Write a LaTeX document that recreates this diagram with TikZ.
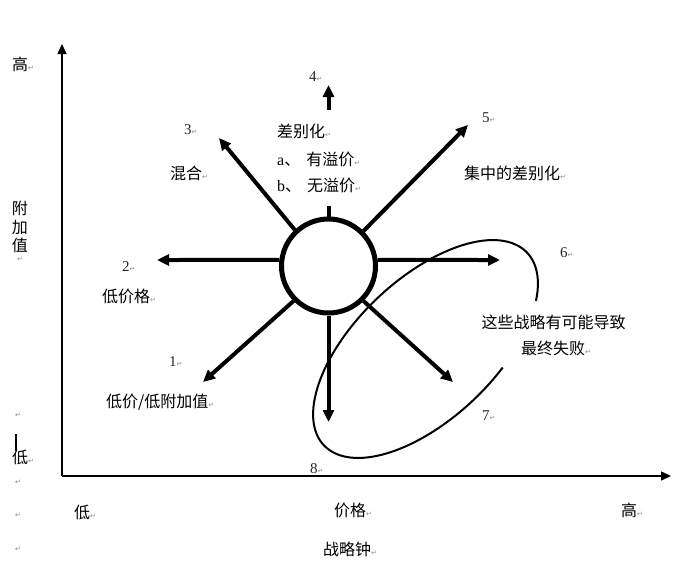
\documentclass[tikz,border=0pt]{standalone}
\usepackage{fontspec}
\setmainfont{Noto Sans CJK SC}
\newfontfamily\digf{Liberation Serif}
\newfontfamily\symf{DejaVu Sans}
\usetikzlibrary{arrows.meta}
\newcommand\retmark{{\symf\fontsize{7}{8}\selectfont\textcolor{black!45}{↵}}}
\begin{document}
\begin{tikzpicture}[x=1pt,y=-1pt,
  lbl/.style={inner sep=0pt, anchor=west, font=\fontsize{16}{19}\selectfont},
  numl/.style={inner sep=0pt, anchor=west, font=\digf\fontsize{15}{17}\selectfont, text=black!85},
  bigarrow/.style={line width=4pt, -{Triangle[length=12pt,width=11pt]}},
  stub/.style={line width=4pt},
  axisline/.style={line width=1.5pt, -{Triangle[length=10pt,width=9pt]}},
  ell/.style={line width=2pt},
  hub/.style={draw, circle, line width=5pt, minimum size=94pt, inner sep=0pt, fill=white}
  ]
\useasboundingbox (0,0) rectangle (695,565);

% axes
\coordinate (O) at (62,476);
\coordinate (ytop) at (62,44);
\coordinate (xend) at (671,476);
\draw[axisline] (O) -- (ytop);
\draw[axisline] (O) -- (xend);

% ellipse (open where the text sits)
\begin{scope}[shift={(425.5,349)}, rotate=43.5]
\draw[ell] (-36:140pt and 70pt) arc[start angle=-36, end angle=288, x radius=140pt, y radius=70pt];
\end{scope}

% hub
\node[hub] (c) at (328.5,266) {};

% arrow tips
\coordinate (t1) at (203,382);
\coordinate (t2) at (157,260);
\coordinate (t3) at (219,138);
\coordinate (t4) at (328.5,85);
\coordinate (s4a) at (328.5,206);
\coordinate (s4b) at (328.5,110);
\coordinate (t5) at (468,125);
\coordinate (t6) at (500,260);
\coordinate (t7) at (453,382);
\coordinate (t8) at (328.5,422);

\draw[bigarrow] (c.225) -- (t1);
\draw[bigarrow] (c.173) -- (t2);
\draw[bigarrow] (c.133) -- (t3);
\draw[stub] (c.90) -- (s4a);
\draw[bigarrow] (s4b) -- (t4);
\draw[bigarrow] (c.45) -- (t5);
\draw[bigarrow] (c.7) -- (t6);
\draw[bigarrow] (c.315) -- (t7);
\draw[bigarrow] (c.270) -- (t8);

% left labels
\node[lbl] (hi) at (12,64) {高\retmark};
\node[lbl, anchor=center, align=center, font=\fontsize{16}{18.5}\selectfont] (va) at (20,227) {附\\加\\值};
\node[inner sep=0pt] (r0) at (20,259) {\retmark};
\node[inner sep=0pt] (r1) at (18,415) {\retmark};
\node[lbl] (lo) at (12,457) {低\retmark};
\coordinate (cur1) at (16,434);
\coordinate (cur2) at (16,451);
\draw[line width=1.5pt] (cur1) -- (cur2);
\node[inner sep=0pt] (r2) at (18,482) {\retmark};
\node[inner sep=0pt] (r3) at (18,515) {\retmark};
\node[inner sep=0pt] (r4) at (18,549) {\retmark};

% strategy numbers and names
\node[numl] (n3) at (184,130) {3\retmark};
\node[lbl] (l3) at (170,173) {混合\retmark};
\node[numl] (n2) at (122,267) {2\retmark};
\node[lbl] (l2) at (102,296) {低价格\retmark};
\node[numl] (n1) at (169,362) {1\retmark};
\node[lbl] (l1) at (106,402) {低价/低附加值\retmark};
\node[numl] (n4) at (309,77) {4\retmark};
\node[lbl] (l4a) at (277,131) {差别化\retmark};
\node[lbl] (l4b) at (277,159) {{\digf a}、\hspace{6pt}有溢价\retmark};
\node[lbl] (l4c) at (277,185) {{\digf b}、\hspace{6pt}无溢价\retmark};
\node[numl] (n5) at (482,118) {5\retmark};
\node[lbl] (l5) at (464,173) {集中的差别化\retmark};
\node[numl] (n6) at (560,253) {6\retmark};
\node[lbl, anchor=center] (f1) at (553.5,322) {这些战略有可能导致};
\node[lbl] (f2) at (521,348) {最终失败\retmark};
\node[numl] (n7) at (482,416) {7\retmark};
\node[numl] (n8) at (310,469) {8\retmark};

% axis labels
\node[lbl] (xlo) at (74,512) {低\retmark};
\node[lbl] (xmid) at (334,510) {价格\retmark};
\node[lbl] (xhi) at (621,510) {高\retmark};
\node[lbl] (title) at (323,549) {战略钟\retmark};
\end{tikzpicture}
\end{document}
